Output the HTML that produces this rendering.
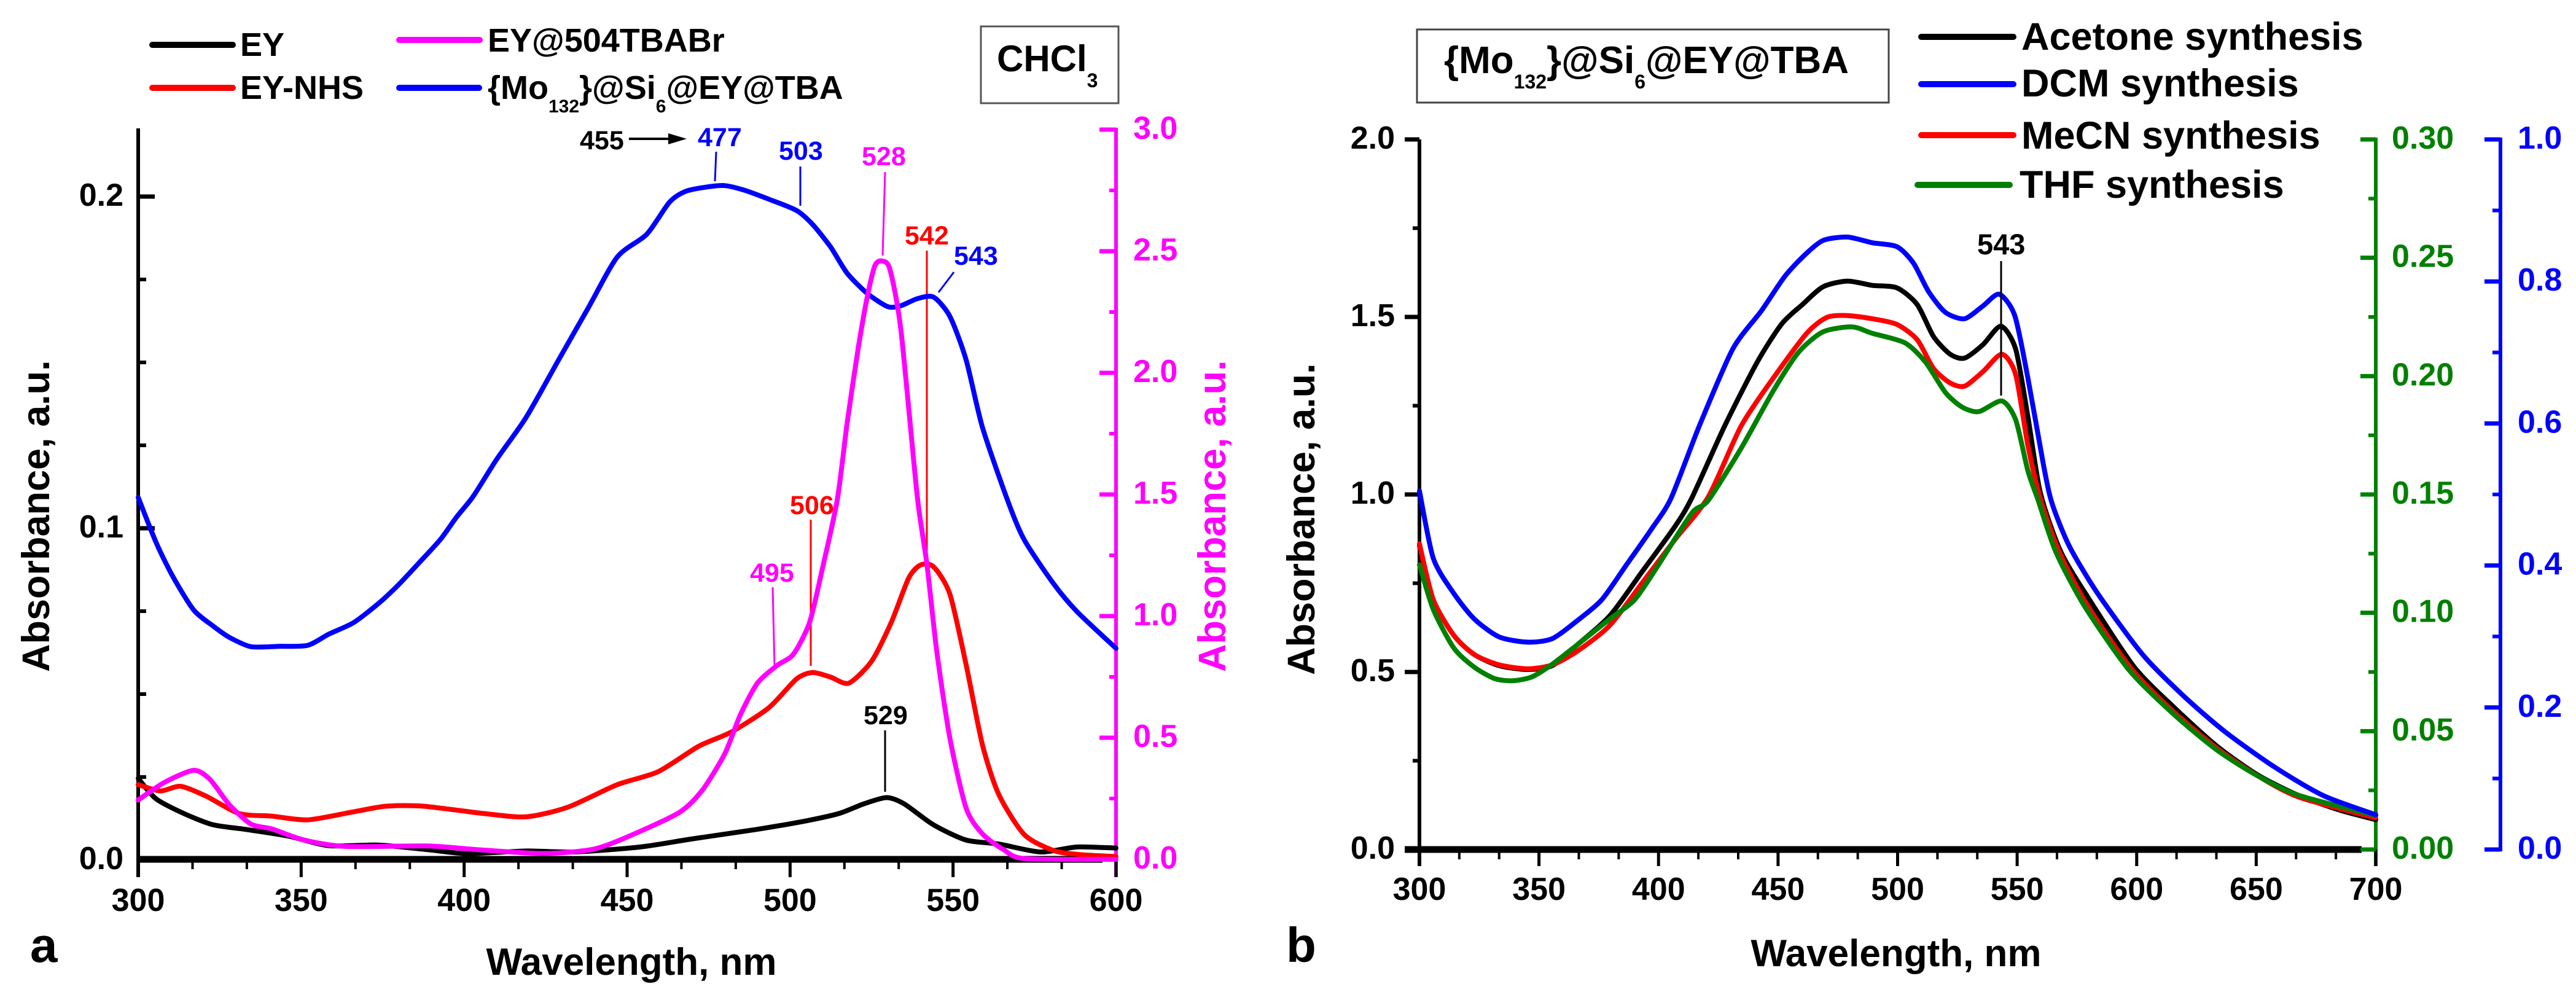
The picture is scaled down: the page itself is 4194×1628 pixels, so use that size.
<!DOCTYPE html>
<html lang="en">
<head>
<meta charset="utf-8">
<title>Absorbance spectra</title>
<style>
html,body{margin:0;padding:0;background:#fff;}
svg{display:block;}
text{font-family:"Liberation Sans",sans-serif;font-weight:bold;}
</style>
</head>
<body>
<svg id="fig" xmlns="http://www.w3.org/2000/svg" width="4194" height="1628" viewBox="0 0 4194 1628">
  <rect width="4194" height="1628" fill="#fff"/>

  <!-- Panel a static labels -->
  <g font-size="54">
    <line x1="248" y1="73" x2="379" y2="73" stroke="#000" stroke-width="10" stroke-linecap="round"/>
    <text x="391" y="91">EY</text>
    <line x1="248" y1="143" x2="379" y2="143" stroke="#f00" stroke-width="10" stroke-linecap="round"/>
    <text x="391" y="161">EY-NHS</text>
    <line x1="650" y1="65" x2="781" y2="65" stroke="#f0f" stroke-width="10" stroke-linecap="round"/>
    <text x="794" y="84">EY@504TBABr</text>
    <line x1="650" y1="143" x2="780" y2="143" stroke="#00f" stroke-width="10" stroke-linecap="round"/>
    <text x="794" y="161">{Mo<tspan font-size="30" dy="22">132</tspan><tspan dy="-22">}@Si</tspan><tspan font-size="30" dy="22">6</tspan><tspan dy="-22">@EY@TBA</tspan></text>
  </g>
  <rect x="1597" y="43" width="224" height="125" fill="#fff" stroke="#555" stroke-width="3"/>
  <text x="1623" y="116" font-size="60">CHCl<tspan font-size="32" dy="26">3</tspan></text>

  <g font-size="43">
    <text x="944" y="243" fill="#000">455</text>
    <line x1="1024" y1="226" x2="1095" y2="226" stroke="#000" stroke-width="4"/>
    <polygon points="1118,226 1088,217 1088,235" fill="#000"/>
    <text x="1136" y="238" fill="#00f">477</text>
    <line x1="1166" y1="247" x2="1164" y2="295" stroke="#00f" stroke-width="3"/>
    <text x="1268" y="260" fill="#00f">503</text>
    <line x1="1303" y1="271" x2="1303" y2="335" stroke="#00f" stroke-width="3"/>
    <text x="1403" y="269" fill="#f0f">528</text>
    <line x1="1441" y1="280" x2="1437" y2="416" stroke="#f0f" stroke-width="3"/>
    <text x="1473" y="398" fill="#f00">542</text>
    <line x1="1509" y1="408" x2="1509" y2="917" stroke="#f00" stroke-width="3"/>
    <text x="1553" y="431" fill="#00f">543</text>
    <line x1="1553" y1="443" x2="1528" y2="476" stroke="#00f" stroke-width="3"/>
    <text x="1286" y="837" fill="#f00">506</text>
    <line x1="1320" y1="846" x2="1320" y2="1084" stroke="#f00" stroke-width="3"/>
    <text x="1221" y="947" fill="#f0f">495</text>
    <line x1="1258" y1="956" x2="1261" y2="1085" stroke="#f0f" stroke-width="3"/>
    <text x="1406" y="1179" fill="#000">529</text>
    <line x1="1441" y1="1189" x2="1441" y2="1289" stroke="#000" stroke-width="3"/>
  </g>

  <text x="49" y="1566" font-size="80">a</text>
  <text x="1028" y="1587" font-size="62" text-anchor="middle">Wavelength, nm</text>
  <text transform="translate(80,1094) rotate(-90)" font-size="63">Absorbance, a.u.</text>
  <text transform="translate(1995,1094) rotate(-90)" font-size="63" fill="#f0f">Absorbance, a.u.</text>

  <!-- Panel b static labels -->
  <rect x="2307" y="48" width="768" height="119" fill="#fff" stroke="#444" stroke-width="3"/>
  <text x="2351" y="119" font-size="62">{Mo<tspan font-size="32" dy="25">132</tspan><tspan dy="-25">}@Si</tspan><tspan font-size="32" dy="25">6</tspan><tspan dy="-25">@EY@TBA</tspan></text>
  <g font-size="63">
    <line x1="3128" y1="60" x2="3278" y2="60" stroke="#000" stroke-width="10" stroke-linecap="round"/>
    <text x="3291" y="81">Acetone synthesis</text>
    <line x1="3128" y1="137" x2="3278" y2="137" stroke="#00f" stroke-width="10" stroke-linecap="round"/>
    <text x="3291" y="157">DCM synthesis</text>
    <line x1="3128" y1="220" x2="3278" y2="220" stroke="#f00" stroke-width="10" stroke-linecap="round"/>
    <text x="3291" y="242">MeCN synthesis</text>
    <line x1="3122" y1="301" x2="3272" y2="301" stroke="#008000" stroke-width="10" stroke-linecap="round"/>
    <text x="3288" y="322">THF synthesis</text>
  </g>
  <text x="3219" y="414" font-size="47">543</text>

  <text x="2094" y="1566" font-size="80">b</text>
  <text x="3087" y="1573" font-size="62" text-anchor="middle">Wavelength, nm</text>
  <text transform="translate(2140,1099) rotate(-90)" font-size="63">Absorbance, a.u.</text>

  <g id="marks"></g>
  <line x1="3258" y1="425" x2="3258" y2="644" stroke="#000" stroke-width="3"/>
</svg>

<script>
// ---------- Panel a data ----------
const eyWavelengths = [300,305.5,314,323,333,346,358.5,373.7,388.8,401,419,434,454,469.6,489.7,505,515,522.6,529.6,535,544,554,564,576.8,588,600];
const eyValues = [0.0246,0.0184,0.014,0.0106,0.0092,0.0072,0.0043,0.0045,0.0031,0.0019,0.0027,0.0024,0.0039,0.0063,0.0092,0.0118,0.014,0.0169,0.0188,0.0169,0.0106,0.006,0.0048,0.0024,0.0039,0.0036];

const eyNhsWavelengths = [300,306.8,313,320.7,331,341,352,366,376,387.5,406,419,431.8,447,459.5,472,482,493.5,502,507,512.5,518,525,531,536.4,540,544,549,554,559,564,571.8,580.6,588,600];
const eyNhsValues = [0.0227,0.0208,0.0222,0.0193,0.014,0.0132,0.0121,0.0145,0.0162,0.0162,0.014,0.013,0.0159,0.0227,0.0266,0.0343,0.0386,0.0459,0.0546,0.0565,0.0551,0.0533,0.0599,0.0715,0.085,0.0889,0.0884,0.0802,0.0589,0.0348,0.0198,0.0077,0.0029,0.0017,0.001];

const mo132Wavelengths = [300,305.5,310.6,317,323,328,334.6,343,352,358.5,366,373.7,380,386,392.7,397.7,402.7,410,419,429,438,447,456,463,468,474.6,480,486,493.5,502,507,512.5,517.5,523.8,530,534,539,544,549,554,559,566.7,571.8,580.6,588,600];
const mo132Values = [0.1093,0.0957,0.0855,0.0754,0.0705,0.0671,0.0643,0.0644,0.0647,0.0681,0.0715,0.0773,0.0831,0.0894,0.0966,0.1034,0.1095,0.1208,0.1334,0.1508,0.1663,0.1818,0.1886,0.1983,0.2016,0.2029,0.2033,0.2019,0.1992,0.1958,0.1915,0.1847,0.1769,0.1707,0.1668,0.1671,0.1692,0.1697,0.1639,0.1508,0.1305,0.1085,0.0966,0.0836,0.0749,0.0638];

const tbabrWavelengths = [300,308,317,322,328,334.6,341,351,363.6,388.8,404,424,439,449,465.8,473,480,484.7,490,496,501,506,510,514.5,517.5,521,523.8,526,528,530.6,534,539,542,545,549,554,559,565.5,572,600];
const tbabrValues = [0.244,0.316,0.366,0.329,0.224,0.145,0.125,0.079,0.053,0.055,0.04,0.024,0.04,0.086,0.191,0.283,0.435,0.593,0.725,0.797,0.843,0.975,1.2,1.48,1.793,2.11,2.32,2.44,2.46,2.427,2.176,1.495,1.212,0.856,0.5,0.211,0.105,0.04,0.003,0];

const panelAXTicks = [300,350,400,450,500,550,600];
const panelALeftTicks = [0.0,0.1,0.2];
const panelARightTicks = [0.0,0.5,1.0,1.5,2.0,2.5,3.0];

// ---------- Panel b data ----------
const acetoneWavelengths = [300,305.8,314.4,323,333.3,345.3,355.6,365.9,379.6,393.3,407,413.9,427.6,441.3,451.6,460.2,468.8,479,489.4,499.7,508.2,515,522,528,535.7,543.2,549.4,554.5,559.7,568.3,580.3,599.1,616.3,633.4,650.6,667.8,684.9,700];
const acetoneValues = [0.856,0.703,0.603,0.549,0.518,0.507,0.518,0.576,0.658,0.784,0.911,0.99,1.192,1.373,1.481,1.535,1.585,1.601,1.589,1.582,1.535,1.445,1.395,1.384,1.422,1.474,1.409,1.219,1.005,0.838,0.703,0.513,0.396,0.292,0.21,0.152,0.111,0.084];

const dcmWavelengths = [300,305.8,314.4,323,333.3,345.3,355.6,365.9,376.2,386.6,397,405.2,417,431,443,453,462,469,479,489.4,499.7,506.5,513,520,528,535.7,542.5,549,554.5,561,564.5,571.7,583.7,602.5,619.7,636.9,657.5,678,700];
const dcmValues = [0.505,0.41,0.3605,0.3245,0.2995,0.292,0.297,0.322,0.3515,0.401,0.451,0.4945,0.596,0.7045,0.7585,0.808,0.84,0.858,0.8625,0.8545,0.849,0.8265,0.7855,0.7565,0.7475,0.7655,0.782,0.752,0.664,0.542,0.4885,0.428,0.3605,0.2745,0.216,0.166,0.1165,0.076,0.049];

const mecnWavelengths = [300,305.8,314.4,323,333.3,345.3,355.6,365.9,379.6,393.3,407,420.8,434.5,448,462,470.5,479,489.4,499.7,508.2,515,522,528,535.7,543.6,549.4,554.5,559.7,567.6,579.6,598.4,615.6,634,651,668,700];
const mecnValues = [0.861,0.703,0.603,0.549,0.52,0.509,0.52,0.558,0.631,0.752,0.874,0.993,1.192,1.328,1.454,1.499,1.504,1.495,1.479,1.436,1.355,1.314,1.305,1.346,1.395,1.337,1.138,0.988,0.838,0.685,0.504,0.387,0.283,0.206,0.147,0.089];

const thfWavelengths = [300,305.8,314.4,323,331.5,339,347,355.6,365.9,379.6,390,400,413.9,420.8,434.5,448,458.5,468.8,481,489.4,503,511.6,520,527,534,543.6,549.4,554.5,558.7,566.2,578.2,597,616,634,651,668,700];
const thfValues = [0.1203,0.1014,0.0851,0.077,0.0722,0.0713,0.0729,0.0783,0.0864,0.0974,0.1055,0.1203,0.1421,0.1475,0.1694,0.1938,0.21,0.2187,0.2208,0.2181,0.2141,0.206,0.1931,0.1869,0.185,0.1895,0.1815,0.16,0.1478,0.1257,0.1028,0.0756,0.0567,0.0417,0.0309,0.0228,0.0144];

const panelBXTicks = [300,350,400,450,500,550,600,650,700];
const panelBLeftTicks = [0.0,0.5,1.0,1.5,2.0];
const panelBGreenTicks = [0.00,0.05,0.10,0.15,0.20,0.25,0.30];
const panelBBlueTicks = [0.0,0.2,0.4,0.6,0.8,1.0];

// ---------- Axis functions ----------
const axAx = v => 225 + (v - 300) * (1817 - 225) / 300;
const ayLeft = v => 1400 - v * 5400;
const ayRight = v => 1399 - v * 396;
const bxAx = v => 2311 + (v - 300) * (3868 - 2311) / 400;
const byLeft = v => 1383 - v * 578;
const byGreen = v => 1383 - v * (1156 / 0.3);
const byBlue = v => 1383 - v * 1156;

const NS = 'http://www.w3.org/2000/svg';
const marks = document.getElementById('marks');

function mkLine(x1, y1, x2, y2, color, w) {
  const el = document.createElementNS(NS, 'line');
  el.setAttribute('x1', x1);
  el.setAttribute('y1', y1);
  el.setAttribute('x2', x2);
  el.setAttribute('y2', y2);
  el.setAttribute('stroke', color);
  el.setAttribute('stroke-width', w);
  marks.appendChild(el);
  return el;
}
function mkText(x, y, s, color, anchor) {
  const el = document.createElementNS(NS, 'text');
  el.setAttribute('x', x);
  el.setAttribute('y', y);
  el.setAttribute('font-size', 52);
  el.setAttribute('fill', color);
  el.setAttribute('text-anchor', anchor);
  el.textContent = s;
  marks.appendChild(el);
  return el;
}
// Smooth curve through the data points (Catmull-Rom converted to cubic Beziers)
function mkSeries(xs, ys, fx, fy, color) {
  const pts = xs.map((x, i) => [fx(x), fy(ys[i])]);
  let d = 'M' + pts[0][0].toFixed(1) + ' ' + pts[0][1].toFixed(1);
  for (let i = 0; i < pts.length - 1; i++) {
    const p0 = pts[Math.max(i - 1, 0)];
    const p1 = pts[i];
    const p2 = pts[i + 1];
    const p3 = pts[Math.min(i + 2, pts.length - 1)];
    const c1x = p1[0] + (p2[0] - p0[0]) / 8;
    const c1y = p1[1] + (p2[1] - p0[1]) / 8;
    const c2x = p2[0] - (p3[0] - p1[0]) / 8;
    const c2y = p2[1] - (p3[1] - p1[1]) / 8;
    d += 'C' + c1x.toFixed(1) + ' ' + c1y.toFixed(1) + ' ' + c2x.toFixed(1) + ' ' + c2y.toFixed(1) + ' ' + p2[0].toFixed(1) + ' ' + p2[1].toFixed(1);
  }
  const el = document.createElementNS(NS, 'path');
  el.setAttribute('d', d);
  el.setAttribute('fill', 'none');
  el.setAttribute('stroke', color);
  el.setAttribute('stroke-width', 8);
  el.setAttribute('stroke-linejoin', 'round');
  el.setAttribute('stroke-linecap', 'round');
  marks.appendChild(el);
  return el;
}

let el;

// ---------- Panel a axes ----------
el = mkLine(225, 209, 225, 1428, '#000', 6);


el = mkLine(225, 1399, 1795, 1399, '#000', 11);


el = mkLine(1817, 208, 1817, 1428, '#f0f', 6);



panelAXTicks.forEach(v => {
  el = mkLine(axAx(v), 1399, axAx(v), 1428, '#000', 5);
  
  
  el = mkText(axAx(v), 1483, String(v), '#000', 'middle');
  
  
});
panelAXTicks.slice(0, -1).forEach(v => {
  [50 / 3, 100 / 3].forEach(d => {
    el = mkLine(axAx(v + d), 1399, axAx(v + d), 1415, '#000', 4);
    
    
  });
});
panelALeftTicks.forEach(v => {
  el = mkLine(225, ayLeft(v), 252, ayLeft(v), '#000', 7);
  
  
  el = mkText(201, ayLeft(v) + 15, v.toFixed(1), '#000', 'end');
  
  
});
panelALeftTicks.forEach(v => {
  [0.025, 0.05, 0.075].forEach(d => {
    if (v + d > 0.22) return;
    el = mkLine(225, ayLeft(v + d), 238, ayLeft(v + d), '#000', 6);
    
    
  });
});
panelARightTicks.forEach(v => {
  el = mkLine(1790, ayRight(v), 1817, ayRight(v), '#f0f', 7);
  
  
  el = mkText(1845, ayRight(v) + 15, v.toFixed(1), '#f0f', 'start');
  
  
});
panelARightTicks.slice(0, -1).forEach(v => {
  el = mkLine(1806, ayRight(v + 0.25), 1817, ayRight(v + 0.25), '#f0f', 6);
  
  
});

// ---------- Panel a series ----------
el = mkSeries(eyWavelengths, eyValues, axAx, ayLeft, '#000');


el = mkSeries(eyNhsWavelengths, eyNhsValues, axAx, ayLeft, '#f00');


el = mkSeries(mo132Wavelengths, mo132Values, axAx, ayLeft, '#00f');


el = mkSeries(tbabrWavelengths, tbabrValues, axAx, ayRight, '#f0f');



// ---------- Panel b axes ----------
el = mkLine(2311, 227, 2311, 1410, '#000', 6);


el = mkLine(2287, 1383, 3845, 1383, '#000', 11);


el = mkLine(3868, 224, 3868, 1410, '#008000', 6);


el = mkLine(4071, 224, 4071, 1386, '#00f', 6);



panelBXTicks.forEach(v => {
  el = mkLine(bxAx(v), 1383, bxAx(v), 1410, '#000', 5);
  
  
  el = mkText(bxAx(v), 1465, String(v), '#000', 'middle');
  
  
});
panelBXTicks.slice(0, -1).forEach(v => {
  [50 / 3, 100 / 3].forEach(d => {
    el = mkLine(bxAx(v + d), 1383, bxAx(v + d), 1399, '#000', 4);
    
    
  });
});
panelBLeftTicks.forEach(v => {
  el = mkLine(2287, byLeft(v), 2311, byLeft(v), '#000', 7);
  
  
  el = mkText(2271, byLeft(v) + 15, v.toFixed(1), '#000', 'end');
  
  
});
panelBLeftTicks.slice(0, -1).forEach(v => {
  el = mkLine(2300, byLeft(v + 0.25), 2311, byLeft(v + 0.25), '#000', 6);
  
  
});
panelBGreenTicks.forEach(v => {
  el = mkLine(3843, byGreen(v), 3868, byGreen(v), '#008000', 7);
  
  
  el = mkText(3894, byGreen(v) + 15, v.toFixed(2), '#008000', 'start');
  
  
});
panelBGreenTicks.slice(0, -1).forEach(v => {
  el = mkLine(3856, byGreen(v + 0.025), 3868, byGreen(v + 0.025), '#008000', 6);
  
  
});
panelBBlueTicks.forEach(v => {
  el = mkLine(4045, byBlue(v), 4071, byBlue(v), '#00f', 7);
  
  
  el = mkText(4099, byBlue(v) + 15, v.toFixed(1), '#00f', 'start');
  
  
});
panelBBlueTicks.slice(0, -1).forEach(v => {
  el = mkLine(4058, byBlue(v + 0.1), 4071, byBlue(v + 0.1), '#00f', 6);
  
  
});

// ---------- Panel b series ----------
el = mkSeries(acetoneWavelengths, acetoneValues, bxAx, byLeft, '#000');


el = mkSeries(mecnWavelengths, mecnValues, bxAx, byLeft, '#f00');


el = mkSeries(thfWavelengths, thfValues, bxAx, byGreen, '#008000');


el = mkSeries(dcmWavelengths, dcmValues, bxAx, byBlue, '#00f');


</script>
</body>
</html>
